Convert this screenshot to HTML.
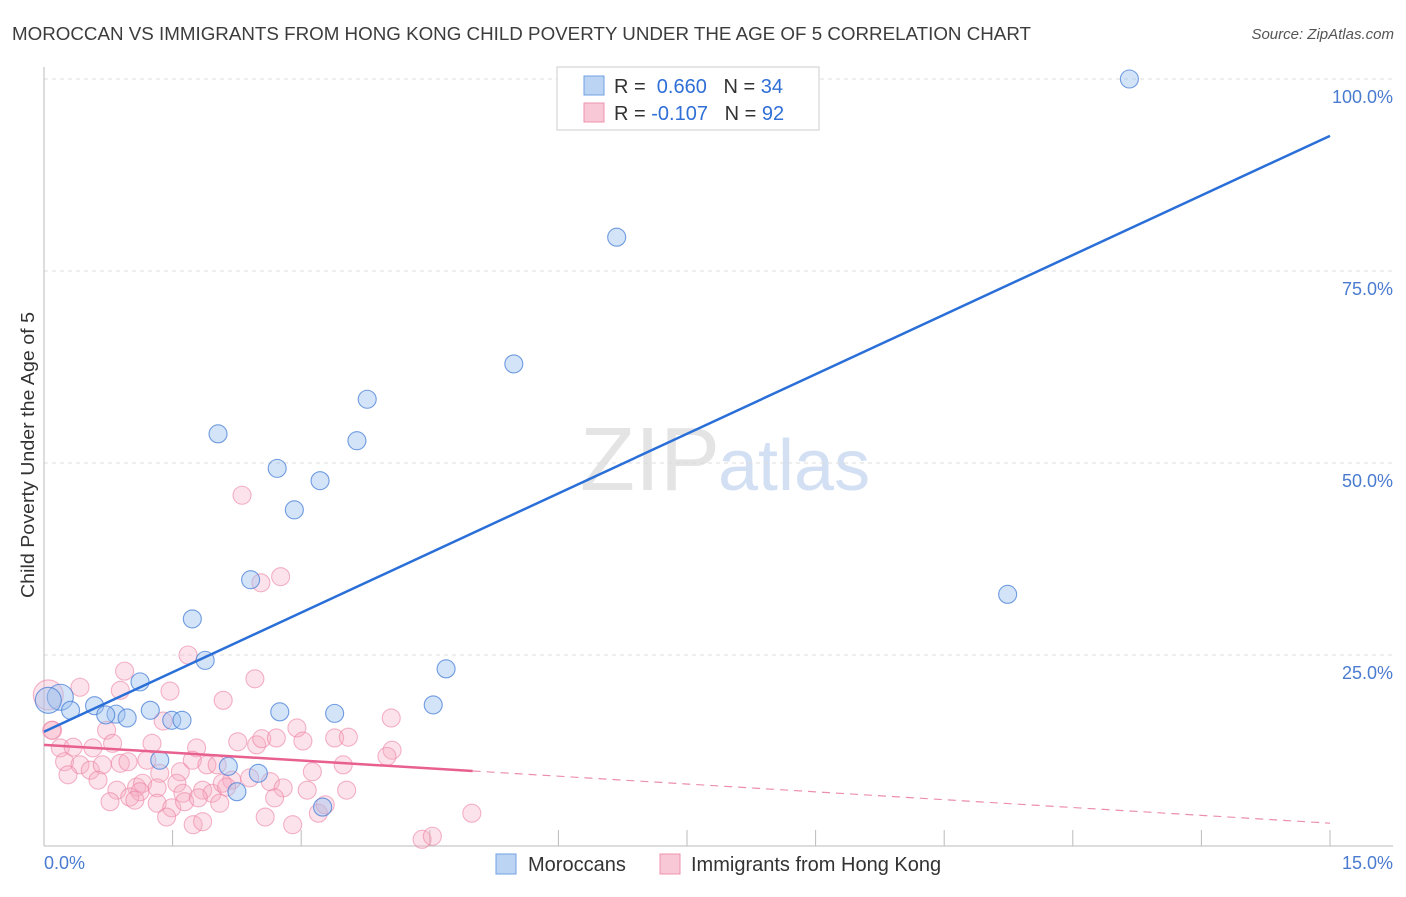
<!DOCTYPE html>
<html><head><meta charset="utf-8"><style>
body{margin:0;background:#fff;font-family:"Liberation Sans",sans-serif;}
svg text{font-family:"Liberation Sans",sans-serif;}
</style></head><body>
<svg width="1406" height="892" xmlns="http://www.w3.org/2000/svg">
<text x="12" y="40" font-size="18" fill="#3c3c3c" textLength="1019" lengthAdjust="spacingAndGlyphs">MOROCCAN VS IMMIGRANTS FROM HONG KONG CHILD POVERTY UNDER THE AGE OF 5 CORRELATION CHART</text>
<text x="1394" y="39" font-size="15" fill="#555" font-style="italic" text-anchor="end">Source: ZipAtlas.com</text>
<text x="720" y="490" font-size="90" fill="#e4e4e4" text-anchor="end" font-family="Liberation Serif">ZIP</text>
<text x="718" y="490" font-size="72" fill="#d3e0f3">atlas</text>
<g id="grid"></g><g id="axes"></g><g id="pts"></g><g id="lines"></g>
<text transform="translate(34,455) rotate(-90)" font-size="18" fill="#333" text-anchor="middle" textLength="286" lengthAdjust="spacingAndGlyphs">Child Poverty Under the Age of 5</text>
<text x="44" y="869" font-size="18" fill="#4a7bd0">0.0%</text>
<text x="1393" y="869" font-size="18" fill="#4a7bd0" text-anchor="end">15.0%</text>
<g>
<rect x="557" y="67" width="262" height="63" fill="#fff" stroke="#ccc"/>
<rect x="584" y="76" width="20" height="19" fill="#bcd4f4" stroke="#6f9fe0"/>
<rect x="584" y="103" width="20" height="19" fill="#f9c8d6" stroke="#ef93ad"/>
<text x="614" y="93" font-size="20" fill="#333">R = <tspan fill="#2f6fd6">&#160;0.660</tspan>&#160;&#160;&#160;N = <tspan fill="#2f6fd6">34</tspan></text>
<text x="614" y="120" font-size="20" fill="#333">R = <tspan fill="#2f6fd6">-0.107</tspan>&#160;&#160;&#160;N = <tspan fill="#2f6fd6">92</tspan></text>
</g>
<g>
<rect x="496" y="854" width="20" height="20" fill="#bcd4f4" stroke="#6f9fe0"/>
<text x="528" y="871" font-size="20" fill="#333">Moroccans</text>
<rect x="660" y="854" width="20" height="20" fill="#f9c8d6" stroke="#ef93ad"/>
<text x="691" y="871" font-size="20" fill="#333">Immigrants from Hong Kong</text>
</g>
</svg>
<script>
const yTicks=[25,50,75,100];
const yTickLabels=["25.0%","50.0%","75.0%","100.0%"];
const xTicks=[1.5,3,4.5,6,7.5,9,10.5,12,13.5,15];
const blueX=[12.66,6.68,5.48,3.77,2.03,3.65,2.72,3.22,2.92,11.24,2.41,1.73,1.88,4.69,1.12,0.19,0.31,0.59,0.84,0.72,0.97,1.24,1.49,1.61,2.75,3.39,4.54,1.35,2.15,2.50,2.25,3.25,0.05];
const blueY=[100,79.4,62.9,58.3,53.8,52.9,49.3,47.7,43.9,32.9,34.8,29.7,24.3,23.2,21.5,19.5,17.8,18.4,17.3,17.2,16.8,17.8,16.5,16.5,17.6,17.4,18.5,11.3,10.5,9.6,7.2,5.2,19.1];
const pinkX=[1.68,0.94,0.42,0.89,1.47,2.46,2.09,4.05,1.39,0.73,0.10,1.26,1.78,2.26,2.48,2.54,2.71,2.95,3.02,3.39,3.55,4.06,4.00,0.19,0.34,0.57,0.80,0.24,0.42,0.54,0.68,0.28,0.63,0.89,0.98,1.20,1.35,1.59,1.73,1.90,2.02,2.19,2.40,2.64,2.79,3.13,3.49,3.53,3.07,2.69,0.85,1.08,1.15,1.12,1.32,1.55,1.62,1.85,1.96,2.08,2.13,0.77,1.00,1.06,1.32,1.49,1.64,1.80,2.05,1.43,1.74,1.85,2.58,2.90,3.20,3.28,4.99,4.41,4.53,2.31,2.76,2.53,0.05,0.09];
const pinkY=[25.0,22.9,20.8,20.4,20.3,21.9,19.1,16.8,16.4,15.2,15.2,13.5,12.9,13.7,13.3,14.1,14.2,15.5,13.8,14.2,14.3,12.6,11.8,12.9,13.0,12.9,13.5,11.1,10.7,10.0,10.7,9.4,8.7,10.9,11.1,11.3,9.6,9.8,11.3,10.7,10.7,8.7,9.0,8.5,7.7,9.8,10.7,7.4,7.4,6.4,7.4,7.8,8.3,7.2,7.7,8.3,7.0,7.4,7.0,8.3,7.8,5.9,6.5,6.1,5.7,5.1,5.9,6.4,5.7,3.9,2.9,3.3,3.9,2.9,4.4,5.5,4.4,1.0,1.4,45.8,35.2,34.4,19.8,15.2];
const blueFit=[15.0,92.6];
const pinkFit=[13.3,3.1];
const pinkSolidEnd=5.0;
const NS="http://www.w3.org/2000/svg";
const X=v=>44+v/15*1286, Y=v=>847-v*7.68;
function mk(tag,attrs,parent){const e=document.createElementNS(NS,tag);for(const k in attrs)e.setAttribute(k,attrs[k]);document.getElementById(parent).appendChild(e);return e;}
yTicks.forEach((t,i)=>{
 const g=mk('line',{x1:44,x2:1393,y1:Y(t),y2:Y(t),stroke:'#ddd','stroke-dasharray':'4,4'},'grid');
 
 
 const l=mk('text',{x:1393,y:Y(t)+24,'font-size':18,fill:'#4a7bd0','text-anchor':'end'},'grid');
 l.textContent=yTickLabels[i];
 
 
});
const ya=mk('line',{x1:44,x2:44,y1:67,y2:846,stroke:'#bbb'},'axes');


const xa=mk('line',{x1:44,x2:1393,y1:846,y2:846,stroke:'#bbb'},'axes');


xTicks.forEach(t=>{
 const k=mk('line',{x1:X(t),x2:X(t),y1:830,y2:846,stroke:'#bbb'},'axes');
 
 
});
pinkX.forEach((x,i)=>{
 const big=(i==pinkX.length-2);
 const c=mk('circle',{cx:X(x),cy:Y(pinkY[i]),r:big?15:9,fill:'rgba(246,170,193,0.33)',stroke:'rgba(236,130,163,0.6)','stroke-width':1.1},'pts');
 
 
});
blueX.forEach((x,i)=>{
 const big=(i==15||i==blueX.length-1);
 const c=mk('circle',{cx:X(x),cy:Y(blueY[i]),r:big?13:9,fill:'rgba(160,195,240,0.45)',stroke:'rgba(70,125,215,0.75)','stroke-width':1.1},'pts');
 
 
});
const bl=mk('line',{x1:X(0),y1:Y(blueFit[0]),x2:X(15),y2:Y(blueFit[1]),stroke:'#2a6fd8','stroke-width':2.5},'lines');


const pv=v=>pinkFit[0]+(pinkFit[1]-pinkFit[0])*v/15;
const ps=mk('line',{x1:X(0),y1:Y(pv(0)),x2:X(pinkSolidEnd),y2:Y(pv(pinkSolidEnd)),stroke:'#e8608f','stroke-width':2.5},'lines');


const pd=mk('line',{x1:X(pinkSolidEnd),y1:Y(pv(pinkSolidEnd)),x2:X(15),y2:Y(pv(15)),stroke:'#ec8fae','stroke-width':1.2,'stroke-dasharray':'8,6'},'lines');


</script>
</body></html>
